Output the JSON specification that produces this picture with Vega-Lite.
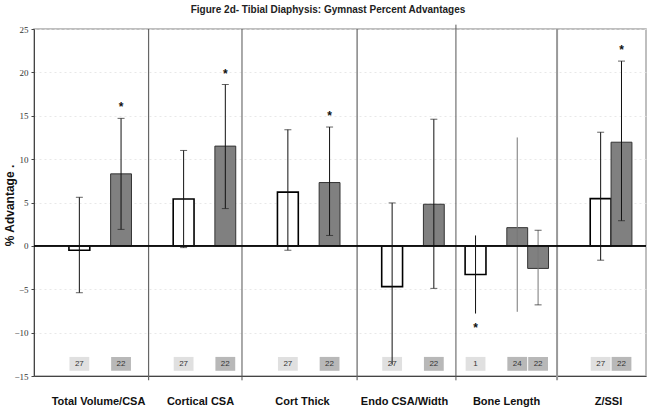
{
  "$schema": "https://vega.github.io/schema/vega-lite/v6.json",
  "width": 612,
  "height": 347,
  "autosize": {"type": "none"},
  "padding": {"left": 34, "top": 29, "right": 6, "bottom": 34},
  "background": "white",
  "title": {"text": "Figure 2d- Tibial Diaphysis: Gymnast Percent Advantages", "anchor": "middle", "offset": 9, "fontSize": 10, "font": "Liberation Sans", "fontWeight": "bold", "color": "#222222", "dx": -12},
  "config": {"view": {"stroke": "#aaaaaa", "strokeWidth": 1.5}, "font": "Liberation Sans"},
  "datasets": {
    "bars": [
      {"bar": "Total Volume/CSA|A", "measure": "Total Volume/CSA", "group": "A", "value": -0.5, "lo": -5.4, "hi": 5.6, "n": 27, "star": "none"},
      {"bar": "Total Volume/CSA|B", "measure": "Total Volume/CSA", "group": "B", "value": 8.3, "lo": 1.9, "hi": 14.7, "n": 22, "star": "above"},
      {"bar": "Cortical CSA|A", "measure": "Cortical CSA", "group": "A", "value": 5.4, "lo": -0.2, "hi": 11.0, "n": 27, "star": "none"},
      {"bar": "Cortical CSA|B", "measure": "Cortical CSA", "group": "B", "value": 11.5, "lo": 4.3, "hi": 18.6, "n": 22, "star": "above"},
      {"bar": "Cort Thick|A", "measure": "Cort Thick", "group": "A", "value": 6.2, "lo": -0.5, "hi": 13.4, "n": 27, "star": "none"},
      {"bar": "Cort Thick|B", "measure": "Cort Thick", "group": "B", "value": 7.3, "lo": 1.2, "hi": 13.7, "n": 22, "star": "above"},
      {"bar": "Endo CSA/Width|A", "measure": "Endo CSA/Width", "group": "A", "value": -4.7, "lo": -13.7, "hi": 4.95, "n": 27, "star": "none"},
      {"bar": "Endo CSA/Width|B", "measure": "Endo CSA/Width", "group": "B", "value": 4.8, "lo": -4.9, "hi": 14.6, "n": 22, "star": "none"},
      {"bar": "Bone Length|A", "measure": "Bone Length", "group": "A", "value": -3.3, "lo": -7.8, "hi": 1.2, "n": 1, "star": "below"},
      {"bar": "Bone Length|B1", "measure": "Bone Length", "group": "B", "value": 2.1, "lo": -7.6, "hi": 12.5, "n": 24, "star": "none"},
      {"bar": "Bone Length|B2", "measure": "Bone Length", "group": "B", "value": -2.6, "lo": -6.8, "hi": 1.8, "n": 22, "star": "none"},
      {"bar": "Z/SSI|A", "measure": "Z/SSI", "group": "A", "value": 5.45, "lo": -1.65, "hi": 13.1, "n": 27, "star": "none"},
      {"bar": "Z/SSI|B", "measure": "Z/SSI", "group": "B", "value": 11.95, "lo": 2.9, "hi": 21.3, "n": 22, "star": "above"}
    ],
    "cats": [
      {"measure": "Total Volume/CSA"}, {"measure": "Cortical CSA"}, {"measure": "Cort Thick"},
      {"measure": "Endo CSA/Width"}, {"measure": "Bone Length"}, {"measure": "Z/SSI"}
    ],
    "seps": [
      {"slot": "g4"}, {"slot": "g9"}, {"slot": "g14"}, {"slot": "g19"}, {"slot": "g24"}
    ]
  },
  "layer": [
    {
      "layer": [
        {
          "data": {"name": "seps"},
          "transform": [{"filter": "datum.slot == 'g4' || datum.slot == 'g14'"}],
          "mark": {"type": "rule", "color": "#666666", "strokeWidth": 1.2, "clip": false},
          "encoding": {
            "x": {"field": "slot", "type": "nominal", "bandPosition": 0.82, "scale": {"domain": ["g0","Total Volume/CSA|A","g2","Total Volume/CSA|B","g4","g5","Cortical CSA|A","g7","Cortical CSA|B","g9","g10","Cort Thick|A","g12","Cort Thick|B","g14","g15","Endo CSA/Width|A","g17","Endo CSA/Width|B","g19","Bone Length|A","g21","Bone Length|B1","Bone Length|B2","g24","g25","Z/SSI|A","Z/SSI|B"], "paddingInner": 0, "paddingOuter": 0.675}, "axis": null},
            "y": {"datum": -15.5, "type": "quantitative", "scale": {"domain": [-15, 25], "nice": false, "zero": false},
              "axis": {"title": "% Advantage  .", "values": [-15, -10, -5, 0, 5, 10, 15, 20, 25], "grid": true, "gridColor": "#e2e2e2", "gridDash": [2, 3], "gridWidth": 0.8, "domainColor": "#444444", "tickColor": "#444444", "tickSize": 3, "labelFont": "Liberation Sans Narrow", "labelFontSize": 9, "labelColor": "#333333", "labelPadding": 3, "titleFont": "Liberation Sans", "titleFontWeight": "bold", "titleFontSize": 12, "titleColor": "#111111", "titleX": -25, "titleY": 176, "titleAngle": 270, "titleAlign": "center", "titleBaseline": "middle"}},
            "y2": {"datum": 25}
          }
        },
        {
          "data": {"name": "seps"},
          "transform": [{"filter": "datum.slot == 'g9'"}],
          "mark": {"type": "rule", "color": "#555555", "strokeWidth": 1, "clip": false},
          "encoding": {
            "x": {"field": "slot", "type": "nominal", "bandPosition": 0.3},
            "y": {"datum": -15.5, "type": "quantitative"},
            "y2": {"datum": 25}
          }
        },
        {
          "data": {"name": "seps"},
          "transform": [{"filter": "datum.slot == 'g19'"}],
          "mark": {"type": "rule", "color": "#555555", "strokeWidth": 1, "clip": false},
          "encoding": {
            "x": {"field": "slot", "type": "nominal", "bandPosition": 0.56},
            "y": {"datum": -15.5, "type": "quantitative"},
            "y2": {"datum": 25.5}
          }
        },
        {
          "data": {"name": "seps"},
          "transform": [{"filter": "datum.slot == 'g24'"}],
          "mark": {"type": "rule", "color": "#999999", "strokeWidth": 2, "clip": false},
          "encoding": {
            "x": {"field": "slot", "type": "nominal", "bandPosition": 0.41},
            "y": {"datum": -15.5, "type": "quantitative"},
            "y2": {"datum": 25}
          }
        },
        {
          "data": {"name": "bars"},
          "mark": {"type": "rect", "width": {"band": 0.95}},
          "encoding": {
            "x": {"field": "bar", "type": "nominal"},
            "y": {"datum": -14.4, "type": "quantitative"},
            "y2": {"datum": -12.8},
            "fill": {"field": "group", "type": "nominal", "scale": {"domain": ["A", "B"], "range": ["#e0e0e0", "#b8b8b8"]}, "legend": null}
          }
        },
        {
          "data": {"name": "bars"},
          "mark": {"type": "bar"},
          "encoding": {
            "x": {"field": "bar", "type": "nominal"},
            "y": {"field": "value", "type": "quantitative"},
            "y2": {"datum": 0},
            "color": {"field": "group", "type": "nominal", "scale": {"domain": ["A", "B"], "range": ["#ffffff", "#808080"]}, "legend": null},
            "stroke": {"field": "group", "type": "nominal", "scale": {"domain": ["A", "B"], "range": ["#000000", "#333333"]}, "legend": null},
            "strokeWidth": {"condition": {"test": "datum.group == 'A'", "value": 1.6}, "value": 1}
          }
        },
        {
          "data": {"name": "bars"},
          "mark": {"type": "rule", "strokeWidth": 1},
          "encoding": {
            "x": {"field": "bar", "type": "nominal"},
            "y": {"field": "lo", "type": "quantitative"},
            "y2": {"field": "hi"},
            "color": {"condition": {"test": "datum.bar == 'Bone Length|B1' || datum.bar == 'Bone Length|B2'", "value": "#777777"}, "value": "#111111"}
          }
        },
        {
          "data": {"name": "bars"},
          "transform": [{"filter": "datum.bar != 'Bone Length|A' && datum.bar != 'Bone Length|B1'"}],
          "mark": {"type": "tick", "size": 7, "thickness": 1, "color": "#222222"},
          "encoding": {
            "x": {"field": "bar", "type": "nominal"},
            "y": {"field": "hi", "type": "quantitative"}
          }
        },
        {
          "data": {"name": "bars"},
          "transform": [{"filter": "datum.bar != 'Bone Length|A' && datum.bar != 'Bone Length|B1' && datum.bar != 'Endo CSA/Width|A'"}],
          "mark": {"type": "tick", "size": 7, "thickness": 1, "color": "#222222"},
          "encoding": {
            "x": {"field": "bar", "type": "nominal"},
            "y": {"field": "lo", "type": "quantitative"}
          }
        },
        {
          "data": {"name": "bars"},
          "mark": {"type": "text", "fontSize": 8, "font": "Liberation Sans", "color": "#333333", "baseline": "middle", "align": "center"},
          "encoding": {
            "x": {"field": "bar", "type": "nominal"},
            "y": {"datum": -13.6, "type": "quantitative"},
            "text": {"field": "n", "type": "nominal"}
          }
        },
        {
          "data": {"name": "bars"},
          "transform": [{"filter": "datum.star == 'above'"}],
          "mark": {"type": "text", "text": "*", "fontSize": 12, "fontWeight": "bold", "color": "#111111", "baseline": "alphabetic", "align": "center", "dy": -7},
          "encoding": {
            "x": {"field": "bar", "type": "nominal"},
            "y": {"field": "hi", "type": "quantitative"}
          }
        },
        {
          "data": {"name": "bars"},
          "transform": [{"filter": "datum.star == 'below'"}],
          "mark": {"type": "text", "text": "*", "fontSize": 12, "fontWeight": "bold", "color": "#111111", "baseline": "alphabetic", "align": "center", "dy": 18},
          "encoding": {
            "x": {"field": "bar", "type": "nominal"},
            "y": {"field": "lo", "type": "quantitative"}
          }
        }
      ],
      "resolve": {"scale": {"color": "independent", "fill": "independent", "stroke": "independent"}}
    },
    {
      "data": {"name": "cats"},
      "layer": [
        {
          "mark": {"type": "text", "text": ""},
          "encoding": {
            "x": {"field": "measure", "type": "nominal", "sort": null, "scale": {"paddingOuter": 0.06, "paddingInner": 0},
              "axis": {"orient": "bottom", "title": null, "ticks": false, "grid": false, "domainColor": "#444444", "domainWidth": 1.2, "labelAngle": 0, "labelFont": "Liberation Sans", "labelFontWeight": "bold", "labelFontSize": 11, "labelColor": "#111111", "labelPadding": 19, "labelOffset": 13}}
          }
        },
        {
          "mark": {"type": "rule", "color": "#111111", "strokeWidth": 1},
          "encoding": {"y": {"datum": 0, "type": "quantitative"}}
        }
      ]
    }
  ],
  "resolve": {"scale": {"x": "independent"}}
}
